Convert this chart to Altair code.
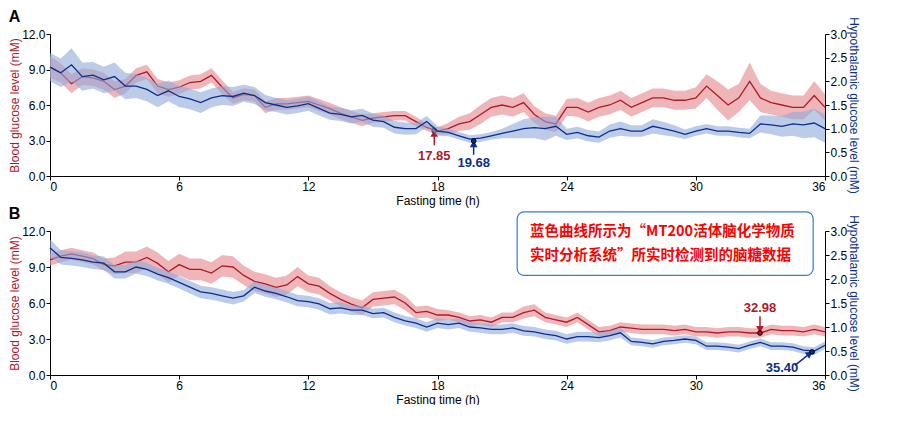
import altair as alt
import pandas as pd

# fasting time, every half hour
hours = [i * 0.5 for i in range(73)]

# panel A, blood glucose (mM, left axis)
a_red = [9.2, 8.7, 7.8, 8.4, 8.3, 8.0, 7.3, 7.6, 8.5, 8.8, 7.6, 7.3, 7.5, 7.9, 8.0, 8.5,
         7.5, 6.6, 6.9, 6.8, 5.8, 6.1, 6.1, 6.2, 6.3, 6.0, 5.7, 5.3, 5.0, 4.7, 4.9, 5.0,
         5.1, 5.1, 4.6, 4.1, 3.8, 4.0, 4.4, 4.6, 5.2, 5.8, 6.0, 5.8, 6.2, 5.2, 4.6, 4.4,
         5.8, 5.8, 5.4, 5.8, 6.0, 6.4, 5.8, 6.2, 6.6, 6.6, 6.4, 6.4, 6.6, 7.6, 6.8, 6.0,
         6.6, 8.0, 6.6, 6.2, 6.0, 5.8, 5.8, 6.8, 5.8]
a_red_sd = [0.9, 0.8, 0.8, 0.7, 0.7, 0.7, 0.7, 0.6, 0.6, 0.6, 0.6, 0.6, 0.6, 0.6, 0.6, 0.6,
            0.6, 0.5, 0.5, 0.5, 0.5, 0.5, 0.5, 0.5, 0.5, 0.5, 0.5, 0.5, 0.5, 0.5, 0.4, 0.4,
            0.4, 0.4, 0.4, 0.3, 0.3, 0.5, 0.6, 0.7, 0.8, 0.8, 0.8, 0.8, 0.8, 0.7, 0.7, 0.7,
            0.7, 0.8, 0.8, 0.8, 0.8, 0.8, 0.8, 0.8, 0.8, 0.8, 0.8, 0.8, 0.9, 1.0, 1.2, 1.3,
            1.2, 1.6, 1.2, 1.0, 1.0, 1.0, 1.0, 1.2, 1.1]
# panel A, hypothalamic glucose (mM, right axis)
a_blue = [2.30, 2.18, 2.35, 2.10, 2.13, 2.03, 2.10, 1.90, 1.90, 1.83, 1.70, 1.80, 1.68, 1.63,
          1.55, 1.65, 1.70, 1.68, 1.75, 1.70, 1.55, 1.50, 1.45, 1.48, 1.53, 1.43, 1.33, 1.30,
          1.25, 1.28, 1.18, 1.15, 1.03, 1.00, 1.00, 1.15, 0.95, 0.92, 0.85, 0.78, 0.80, 0.85,
          0.90, 0.95, 1.00, 1.02, 1.00, 1.05, 0.88, 0.92, 0.85, 0.82, 0.95, 1.00, 0.95, 0.95,
          1.05, 1.00, 0.95, 0.88, 0.95, 1.00, 0.95, 0.95, 0.92, 0.90, 1.10, 1.08, 1.05, 1.10,
          1.08, 1.12, 1.00]
a_blue_sd = [0.30, 0.30, 0.35, 0.30, 0.28, 0.28, 0.30, 0.28, 0.25, 0.25, 0.25, 0.22, 0.22, 0.22,
             0.22, 0.20, 0.20, 0.20, 0.18, 0.18, 0.16, 0.15, 0.15, 0.15, 0.15, 0.15, 0.14, 0.14,
             0.14, 0.14, 0.14, 0.13, 0.13, 0.13, 0.12, 0.12, 0.10, 0.08, 0.08, 0.08, 0.08, 0.08,
             0.10, 0.15, 0.20, 0.22, 0.25, 0.20, 0.12, 0.12, 0.12, 0.12, 0.14, 0.15, 0.12, 0.12,
             0.15, 0.14, 0.12, 0.10, 0.10, 0.10, 0.10, 0.10, 0.10, 0.10, 0.18, 0.20, 0.22, 0.25,
             0.28, 0.30, 0.30]

# panel B
b_red = [9.6, 9.9, 10.1, 9.9, 9.7, 9.2, 9.1, 9.4, 9.4, 9.8, 9.3, 8.6, 9.2, 8.8, 8.8, 8.5,
         9.1, 9.0, 8.3, 7.8, 7.6, 7.3, 7.5, 8.2, 7.6, 7.4, 6.8, 6.3, 5.9, 5.6, 6.3, 6.4,
         6.5, 6.0, 5.2, 5.3, 5.0, 5.0, 4.8, 4.5, 4.6, 4.4, 4.8, 4.8, 5.2, 5.4, 4.8, 4.6,
         4.4, 4.8, 4.2, 3.6, 3.7, 4.0, 3.9, 3.8, 3.8, 3.8, 3.7, 3.8, 3.6, 3.6, 3.5, 3.6,
         3.6, 3.5, 3.5, 3.8, 3.7, 3.7, 3.6, 3.8, 3.6]
b_red_sd = [0.5, 0.5, 0.5, 0.5, 0.5, 0.5, 0.7, 0.9, 0.9, 0.9, 0.9, 0.9, 0.9, 0.9, 0.9, 0.9,
            0.9, 0.9, 0.8, 0.8, 0.8, 0.8, 0.8, 0.8, 0.7, 0.7, 0.6, 0.6, 0.6, 0.6, 0.6, 0.6,
            0.6, 0.6, 0.5, 0.5, 0.5, 0.4, 0.4, 0.4, 0.4, 0.4, 0.4, 0.4, 0.5, 0.5, 0.4, 0.4,
            0.4, 0.4, 0.4, 0.4, 0.4, 0.4, 0.4, 0.4, 0.4, 0.4, 0.4, 0.4, 0.4, 0.4, 0.4, 0.4,
            0.4, 0.4, 0.4, 0.4, 0.4, 0.4, 0.4, 0.4, 0.4]
b_blue = [2.65, 2.45, 2.43, 2.40, 2.35, 2.33, 2.15, 2.15, 2.25, 2.20, 2.10, 2.03, 1.93, 1.83,
          1.73, 1.70, 1.65, 1.60, 1.65, 1.83, 1.75, 1.70, 1.63, 1.55, 1.53, 1.48, 1.38, 1.40,
          1.35, 1.35, 1.28, 1.30, 1.20, 1.13, 1.08, 1.00, 1.08, 1.05, 1.08, 1.00, 0.98, 0.95,
          0.95, 0.98, 0.92, 0.90, 0.85, 0.82, 0.75, 0.80, 0.80, 0.78, 0.82, 0.88, 0.70, 0.68,
          0.65, 0.70, 0.72, 0.75, 0.72, 0.60, 0.60, 0.58, 0.55, 0.62, 0.68, 0.60, 0.60, 0.58,
          0.52, 0.50, 0.62]
b_blue_sd = [0.18, 0.15, 0.15, 0.15, 0.14, 0.14, 0.14, 0.14, 0.14, 0.14, 0.13, 0.13, 0.13, 0.13,
             0.13, 0.13, 0.13, 0.13, 0.12, 0.12, 0.12, 0.12, 0.12, 0.12, 0.12, 0.12, 0.12, 0.12,
             0.10, 0.10, 0.10, 0.10, 0.10, 0.10, 0.10, 0.10, 0.10, 0.10, 0.10, 0.10, 0.10, 0.10,
             0.10, 0.10, 0.10, 0.10, 0.10, 0.10, 0.10, 0.10, 0.10, 0.10, 0.10, 0.10, 0.08, 0.08,
             0.08, 0.08, 0.08, 0.08, 0.08, 0.08, 0.08, 0.08, 0.08, 0.08, 0.08, 0.08, 0.08, 0.08,
             0.08, 0.08, 0.08]

# marked points: [time, value, tail, label y] ; red values on left axis, blue on right
a_red_mark = [17.85, 3.85, 2.6, 1.7]
a_blue_mark = [19.68, 0.74, 0.45, 0.28]
b_red_mark = [32.98, 3.5, 4.9, 5.6]
b_blue_mark = [35.40, 0.48, 34.6, 0.20, 34.0, 0.14]  # time, value, tail x, tail y, label x, label y

note_lines = ['蓝色曲线所示为“MT200活体脑化学物质', '实时分析系统”所实时检测到的脑糖数据']
note_box = [21.7, 35.45, 8.3, 13.6]
note_text = [22.3, 11.9, 9.9]

RED, RED_FILL = '#b2182b', '#e8979b'
BLUE, BLUE_FILL = '#0a2f8c', '#8ea8d8'
W = 775

x_enc = alt.X('t:Q', title='Fasting time (h)',
              scale=alt.Scale(domain=[0, 36], nice=False),
              axis=alt.Axis(values=[0, 6, 12, 18, 24, 30, 36], grid=False))
y_left = alt.Scale(domain=[0, 12], nice=False)
y_right = alt.Scale(domain=[0, 3], nice=False)
ax_left = alt.Axis(values=[0, 3, 6, 9, 12], format='.1f', grid=False,
                   title='Blood glucose level (mM)', titleColor=RED)
ax_right = alt.Axis(values=[0, 0.5, 1, 1.5, 2, 2.5, 3], format='.1f', grid=False,
                    orient='right', title='Hypothalamic glucose level (mM)',
                    titleColor=BLUE)
AXES = {id(y_left): ax_left, id(y_right): ax_right}


def yenc(field, scale):
  return alt.Y(field, scale=scale, axis=AXES[id(scale)])


def arrow_v(x, tip, tail, color, scale):
  d = pd.DataFrame({'t': [x], 'tail': [tail], 'tip': [tip]})
  base = alt.Chart(d)
  rule = base.mark_rule(color=color, strokeWidth=1.5).encode(
      x='t:Q', y=yenc('tail:Q', scale), y2='tip:Q')
  head = base.mark_point(shape='triangle-up' if tail < tip else 'triangle-down',
                         filled=True, color=color, size=60, opacity=1).encode(
      x='t:Q', y=yenc('tip:Q', scale))
  return rule + head


def dot(x, y, color, scale):
  d = pd.DataFrame({'t': [x], 'v': [y]})
  return alt.Chart(d).mark_point(filled=True, color=color, stroke='black',
                                 strokeWidth=1, size=22, opacity=1).encode(
      x='t:Q', y=yenc('v:Q', scale))


def label(x, y, text, color, scale, align='center'):
  d = pd.DataFrame({'t': [x], 'v': [y], 'txt': [text]})
  return alt.Chart(d).mark_text(color=color, fontWeight='bold', fontSize=13,
                                align=align, font='Liberation Sans').encode(
      x='t:Q', y=yenc('v:Q', scale), text='txt:N')


def panel(name, red, red_sd, blue, blue_sd, extras_left, extras_right, height, offset):
  df = pd.DataFrame({
      't': hours, 'red': red,
      'red_lo': [v - s for v, s in zip(red, red_sd)],
      'red_hi': [v + s for v, s in zip(red, red_sd)],
      'blue': blue,
      'blue_lo': [v - s for v, s in zip(blue, blue_sd)],
      'blue_hi': [v + s for v, s in zip(blue, blue_sd)],
  })
  base = alt.Chart(df)
  red_layer = alt.layer(
      base.mark_area(color=RED_FILL, opacity=0.7).encode(
          x=x_enc, y=yenc('red_lo:Q', y_left), y2='red_hi:Q'),
      base.mark_line(color=RED, strokeWidth=1.3).encode(
          x=x_enc, y=yenc('red:Q', y_left)),
      *extras_left)
  blue_layer = alt.layer(
      base.mark_area(color=BLUE_FILL, opacity=0.6).encode(
          x=x_enc, y=yenc('blue_lo:Q', y_right), y2='blue_hi:Q'),
      base.mark_line(color=BLUE, strokeWidth=1.3).encode(
          x=x_enc, y=yenc('blue:Q', y_right)),
      *extras_right)
  return (alt.layer(red_layer, blue_layer)
          .resolve_scale(y='independent')
          .properties(width=W, height=height,
                      title=alt.TitleParams(name, anchor='start', frame='bounds',
                                            fontSize=16, fontWeight='bold', offset=offset)))


a_left = [arrow_v(a_red_mark[0], a_red_mark[1] - 0.25, a_red_mark[2], RED, y_left),
          dot(a_red_mark[0], a_red_mark[1], RED, y_left),
          label(a_red_mark[0], a_red_mark[3], '17.85', RED, y_left)]
a_right = [arrow_v(a_blue_mark[0], a_blue_mark[1] - 0.06, a_blue_mark[2], BLUE, y_right),
           dot(a_blue_mark[0], a_blue_mark[1], BLUE, y_right),
           label(a_blue_mark[0], a_blue_mark[3], '19.68', BLUE, y_right)]

box = pd.DataFrame({'x': [note_box[0]], 'x2': [note_box[1]],
                    'y': [note_box[2]], 'y2': [note_box[3]]})
note_df = pd.DataFrame({'t': [note_text[0]] * 2, 'v': note_text[1:], 'txt': note_lines})
diag = pd.DataFrame({'t': [b_blue_mark[2], b_blue_mark[0] - 0.15],
                     'v': [b_blue_mark[3], b_blue_mark[1] - 0.05]})
b_left = [arrow_v(b_red_mark[0], b_red_mark[1] + 0.3, b_red_mark[2], RED, y_left),
          dot(b_red_mark[0], b_red_mark[1], RED, y_left),
          label(b_red_mark[0], b_red_mark[3], '32.98', RED, y_left),
          alt.Chart(box).mark_rect(fill='white', stroke='#2a7de1', strokeWidth=1.2,
                                   cornerRadius=7).encode(
              x='x:Q', x2='x2:Q', y=yenc('y:Q', y_left), y2='y2:Q'),
          alt.Chart(note_df).mark_text(color='#ff0000', fontWeight='bold', fontSize=14.5,
                                       align='left', font='Noto Sans CJK SC').encode(
              x='t:Q', y=yenc('v:Q', y_left), text='txt:N')]
b_right = [alt.Chart(diag).mark_line(color=BLUE, strokeWidth=1.5).encode(
               x='t:Q', y=yenc('v:Q', y_right)),
           alt.Chart(diag.tail(1)).mark_point(shape='triangle', angle=55, filled=True,
                                              color=BLUE, size=60, opacity=1).encode(
               x='t:Q', y=yenc('v:Q', y_right)),
           dot(b_blue_mark[0], b_blue_mark[1], BLUE, y_right),
           label(b_blue_mark[4], b_blue_mark[5], '35.40', BLUE, y_right)]

chart = (alt.vconcat(
    panel('A', a_red, a_red_sd, a_blue, a_blue_sd, a_left, a_right, 142, -8),
    panel('B', b_red, b_red_sd, b_blue, b_blue_sd, b_left, b_right, 144, -11),
    spacing=0)
    .properties(padding={'left': 0, 'top': 0, 'right': 0, 'bottom': 0})
    .configure_view(stroke=None)
    .configure_axis(labelFont='Liberation Sans', titleFont='Liberation Sans',
                    labelFontSize=12, titleFontSize=12, labelColor='black',
                    domainColor='black', tickColor='black', titleFontWeight='normal',
                    titlePadding=0, labelPadding=1, tickSize=4)
    .configure_axisX(titlePadding=3)
    .configure_title(font='Liberation Sans'))

chart.save('out.html', embed_options={'renderer': 'svg', 'actions': False})
